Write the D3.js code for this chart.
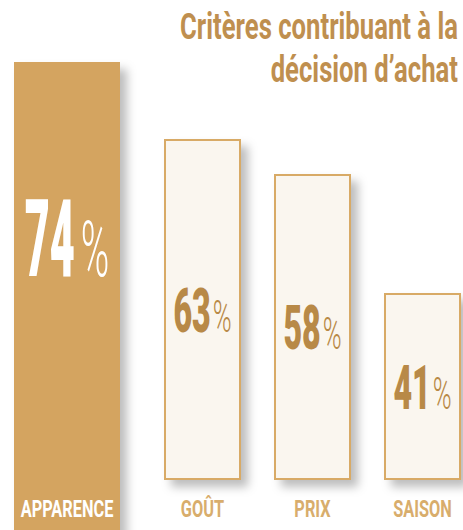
<!DOCTYPE html>
<html>
<head>
<meta charset="utf-8">
<script src="https://cdn.jsdelivr.net/npm/d3@7"></script>
<style>
  html, body { margin: 0; padding: 0; background: #fff; overflow: hidden; }
  svg { display: block; font-family: Roboto, "DejaVu Sans", sans-serif; }
</style>
</head>
<body>
<div id="chart"></div>
<script>
// Values; the first category is the highlighted one.
const categories = ["APPARENCE", "GOÛT", "PRIX", "SAISON"];
const values = [74, 63, 58, 41];
const titleLines = ["Critères contribuant à la", "décision d’achat"];

const W = 463, H = 530;
const baseY = 480;            // bottom edge of the outlined bars
const GOLD = "#d4a461", LINE = "#d8aa66", CREAM = "#faf6ef";
const BROWN = "#b88947", LABEL = "#d8ad6c", TITLE = "#bf8f4f";

const svg = d3.select("#chart").append("svg")
  .attr("width", W).attr("height", H).attr("viewBox", `0 0 ${W} ${H}`);

// Soft drop shadow down and to the right of every bar.
svg.append("defs").append("filter").attr("id", "shadow")
  .attr("x", "-20%").attr("y", "-10%").attr("width", "160%").attr("height", "130%")
  .append("feDropShadow")
  .attr("dx", 7).attr("dy", 7).attr("stdDeviation", 5)
  .attr("flood-color", "#000").attr("flood-opacity", 0.26);

// Bar tops follow a linear scale whose zero sits below the picture.
const y = d3.scaleLinear([0, 100], [580, -120]);

// Outlined bars share a band scale; the highlighted one takes the left column.
const xOther = d3.scaleBand(categories.slice(1), [164, 461]).paddingInner(0.3).paddingOuter(0);
const bw = xOther.bandwidth();
const hi = { x0: 14, w: 106 };

const data = categories.map((c, i) => {
  const highlight = i === 0;
  const x0 = highlight ? hi.x0 : xOther(c);
  const w = highlight ? hi.w : bw;
  return { c, v: values[i], highlight, x0, w, cx: x0 + w / 2, top: y(values[i]) };
});

// Draw bars (highlighted one runs off the bottom of the picture).
svg.append("g").selectAll("rect").data(data).join("rect")
  .attr("filter", "url(#shadow)")
  .attr("x", (d) => d.highlight ? d.x0 : d.x0 + 1)
  .attr("y", (d) => d.highlight ? d.top : d.top + 1)
  .attr("width", (d) => d.highlight ? d.w : d.w - 2)
  .attr("height", (d) => d.highlight ? H + 10 - d.top : baseY - 1 - (d.top + 1))
  .attr("fill", (d) => d.highlight ? GOLD : CREAM)
  .attr("stroke", (d) => d.highlight ? "none" : LINE)
  .attr("stroke-width", 2);

// Condensed look: Roboto squeezed horizontally around its anchor.
function squeeze(sel, x, yy, f) {
  sel.attr("x", 0).attr("y", 0).attr("transform", `translate(${x},${yy}) scale(${f},1)`);
}

// Percentages: big digits plus a lighter, smaller % sign.
const vals = svg.append("g");
data.forEach((d) => {
  const fs = d.highlight ? 108 : 62;
  const fd = d.highlight ? 0.40 : 0.52;
  const pfs = d.highlight ? 77 : 44;
  const fp = d.highlight ? 0.5 : 0.58;
  const gap = d.highlight ? 6 : 2;
  const col = d.highlight ? "#fff" : BROWN;
  const center = d.top + (baseY - d.top) * (d.highlight ? 0.42 : 0.5);
  const base = center + fs * 0.711 / 2;

  const num = vals.append("text").attr("fill", col).attr("font-weight", 900)
    .attr("font-size", fs).text(d.v);
  const pct = vals.append("text").attr("fill", col).attr("font-weight", 300)
    .attr("font-size", pfs).text("%");
  const dw = num.node().getComputedTextLength() * fd;
  const pw = pct.node().getComputedTextLength() * fp;
  const start = d.cx - (dw + gap + pw) / 2;
  squeeze(num, start, base, fd);
  squeeze(pct, start + dw + gap, base, fp);
});

// Category labels under (or inside) the bars.
svg.append("g").selectAll("text").data(data).join("text")
  .attr("text-anchor", "middle")
  .attr("font-weight", 700).attr("font-size", 23)
  .attr("fill", (d) => d.highlight ? "#fff" : LABEL)
  .text((d) => d.c)
  .each(function (d) { squeeze(d3.select(this), d.cx, 517, 0.71); });

// Title, right-aligned in two lines.
const tg = svg.append("g");
const tl = titleLines.map((t) => tg.append("text").attr("text-anchor", "end")
  .attr("font-weight", 700).attr("font-size", 36.5).attr("fill", TITLE).text(t));
const tf = 278 / tl[0].node().getComputedTextLength();
tl.forEach((t, i) => squeeze(t, 458, 39 + i * 43, tf));
</script>
</body>
</html>
